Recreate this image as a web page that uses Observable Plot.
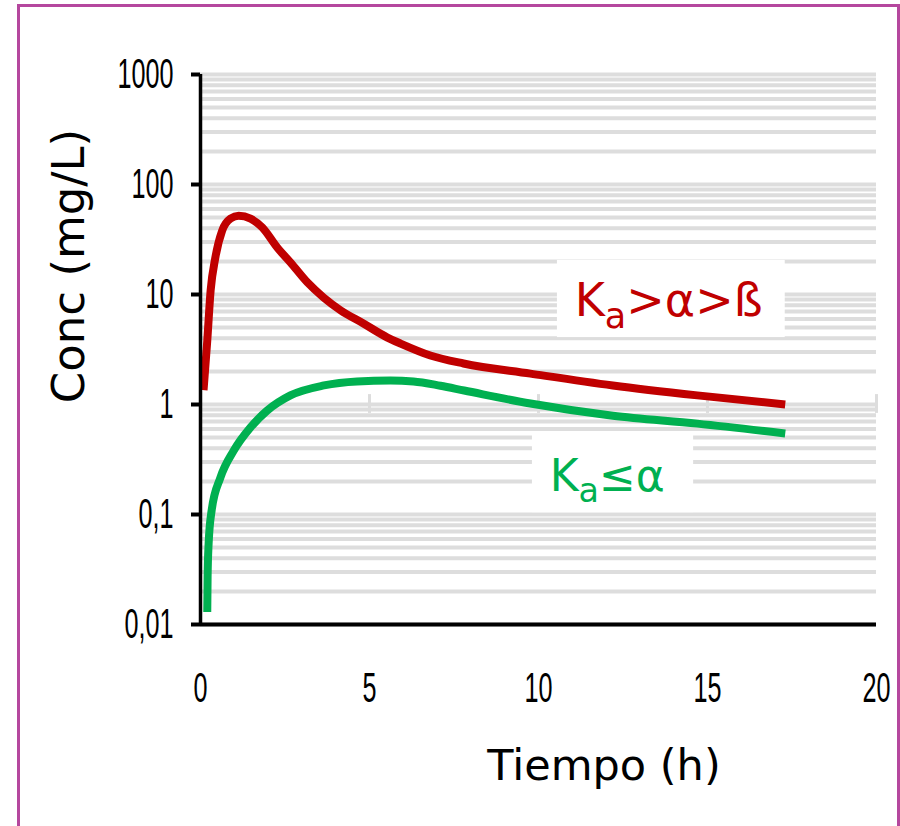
<!DOCTYPE html>
<html>
<head>
<meta charset="utf-8">
<script src="https://cdn.jsdelivr.net/npm/d3@7"></script>
<script src="https://cdn.jsdelivr.net/npm/@observablehq/plot@0.6"></script>
<style>
  html, body { margin: 0; padding: 0; background: #fff; }
  #wrap { position: relative; width: 900px; height: 826px; overflow: hidden; }
  #frame { position: absolute; left: 17px; top: 4px; width: 883px; height: 900px; box-sizing: border-box;
           border: 3px solid #b5479e; border-bottom: none; pointer-events: none; z-index: 2; }
  #chart { position: absolute; left: 0; top: 0; }
</style>
</head>
<body>
<div id="wrap"><div id="chart"></div><div id="frame"></div></div>
<script>
// ---- data ----
const redTime = [0.09, 0.2, 0.3, 0.44, 0.64, 0.89, 1.13, 1.48, 1.83, 2.27, 2.66, 3.16, 3.64, 4.14, 4.82, 5.53, 5.92, 6.8, 7.78, 9.76, 12.2, 14.7, 17.3];
const redConc = [1.35, 3.8, 10.9, 21.7, 38, 49, 52, 49, 40.6, 26.7, 19.6, 12.9, 9.4, 7.2, 5.45, 4.06, 3.58, 2.79, 2.36, 1.91, 1.49, 1.21, 1.0];
const greenTime = [0.2, 0.21, 0.24, 0.33, 0.59, 0.98, 1.48, 1.97, 2.66, 3.65, 4.63, 5.62, 6.3, 7.1, 7.8, 9.76, 12.2, 14.7, 17.3];
const greenConc = [0.013, 0.027, 0.054, 0.109, 0.217, 0.38, 0.62, 0.88, 1.21, 1.49, 1.62, 1.65, 1.62, 1.48, 1.34, 1.02, 0.79, 0.67, 0.545];

const xTicks = [0, 5, 10, 15, 20];
const yTicks = [0.01, 0.1, 1, 10, 100, 1000];
const stubTicks = [5, 10, 15, 20];

const labelBase = ["K", "K"];
const labelSub = ["a", "a"];
const labelRest = [">α>ß", "≤α"];
const labelTime = [11.07, 10.33];
const labelConc = [6.31, 0.165];
const labelColor = ["#c00000", "#00b050"];
const boxT1 = [10.56, 9.82];
const boxT2 = [17.3, 14.59];
const boxC1 = [4.06, 0.104];
const boxC2 = [20.4, 0.523];

// ---- tables ----
const red = redTime.map((t, i) => ({t, c: redConc[i]}));
const green = greenTime.map((t, i) => ({t, c: greenConc[i]}));
const labels = labelBase.map((b, i) => ({
  base: b, sub: labelSub[i], rest: labelRest[i], t: labelTime[i], c: labelConc[i], color: labelColor[i],
  size: i === 0 ? 46 : 44, t1: boxT1[i], t2: boxT2[i], c1: boxC1[i], c2: boxC2[i]
}));
// minor gridlines of the log scale (1..9 × each decade)
const gridVals = [];
for (const d of [0.01, 0.1, 1, 10, 100]) for (let k = 1; k <= 9; k++) gridVals.push(+(k * d).toPrecision(3));
gridVals.push(1000);

const fmt = d => String(d).replace(".", ",");

const svg = Plot.plot({
  width: 900, height: 826,
  marginLeft: 200, marginRight: 24, marginTop: 74, marginBottom: 202,
  style: {fontFamily: "'Liberation Sans', Arial, sans-serif", fontSize: "42px", background: "transparent", overflow: "visible", color: "#000"},
  x: {domain: [0, 20]},
  y: {type: "log", domain: [0.01, 1000]},
  marks: [
    Plot.ruleY(gridVals, {stroke: "#dddddd", strokeWidth: 4}),
    Plot.ruleX(stubTicks, {y1: 0.83, y2: 1.23, stroke: "#dddddd", strokeWidth: 3}),
    Plot.rect(labels, {x1: "t1", x2: "t2", y1: "c1", y2: "c2", fill: "white"}),
    Plot.line(red, {x: "t", y: "c", stroke: "#c00000", strokeWidth: 8, curve: "monotone-x", strokeLinecap: "butt"}),
    Plot.line(green, {x: "t", y: "c", stroke: "#00b050", strokeWidth: 8, curve: "monotone-x", strokeLinecap: "butt"}),
    Plot.text(labels, {x: "t", y: "c", text: d => d.base + d.sub + d.rest, fill: "color", fontSize: "size",
      textAnchor: "start", lineAnchor: "bottom", fontFamily: "'DejaVu Sans', Verdana, sans-serif"}),
    Plot.ruleX([0], {stroke: "#000", strokeWidth: 3.5}),
    Plot.ruleY([0.01], {stroke: "#000", strokeWidth: 4}),
    Plot.axisY({ticks: yTicks, tickFormat: fmt, tickSize: 9, tickPadding: 18, strokeWidth: 4, label: null}),
    Plot.axisX({ticks: xTicks, tickFormat: d => String(d), tickSize: 0, tickPadding: 48, label: null})
  ]
});

// condensed tick labels
svg.querySelectorAll('g[aria-label="y-axis tick label"] text, g[aria-label="x-axis tick label"] text').forEach(t => {
  const tr = t.getAttribute("transform") || "";
  t.setAttribute("transform", tr + " scale(0.6,1)");
});

// subscripts in annotations
svg.querySelectorAll('g[aria-label="text"] text').forEach((t, j) => {
  let i = d3.select(t).datum();
  if (typeof i !== "number" || !labels[i]) i = j;
  const d = labels[i];
  if (!d) return;
  t.textContent = "";
  const sel = d3.select(t);
  sel.append("tspan").text(d.base);
  sel.append("tspan").text(d.sub).attr("font-size", d.size * 0.76).attr("dy", d.size * 0.25);
  sel.append("tspan").text(d.rest).attr("font-size", d.size).attr("dy", -d.size * 0.25);
});

// axis titles
const s = d3.select(svg);
s.append("text").text("Tiempo (h)").attr("x", 604).attr("y", 780).attr("text-anchor", "middle")
  .attr("font-family", "'DejaVu Sans', Verdana, sans-serif").attr("font-size", 43).attr("fill", "#000");
s.append("text").text("Conc (mg/L)").attr("transform", "translate(84,266) rotate(-90)").attr("text-anchor", "middle")
  .attr("font-family", "'DejaVu Sans', Verdana, sans-serif").attr("font-size", 45).attr("fill", "#000");

document.getElementById("chart").appendChild(svg);
</script>
</body>
</html>
